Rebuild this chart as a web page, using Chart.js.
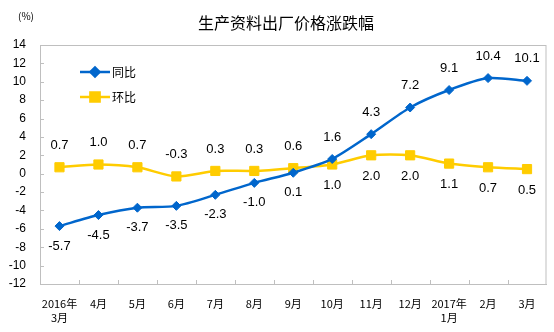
<!DOCTYPE html>
<html>
<head>
<meta charset="utf-8">
<script src="https://cdn.jsdelivr.net/npm/chart.js@4/dist/chart.umd.min.js"></script>
<style>
  html, body { margin: 0; padding: 0; background: #fff; }
  #wrap { width: 554px; height: 332px; }
</style>
</head>
<body>
<div id="wrap"><canvas id="charts"></canvas></div>
<script>
// month labels, two lines where the year changes
const months = [['2016年', '3月'], '4月', '5月', '6月', '7月', '8月', '9月', '10月', '11月', '12月', ['2017年', '1月'], '2月', '3月']
const yoy = [-5.7, -4.5, -3.7, -3.5, -2.3, -1.0, 0.1, 1.6, 4.3, 7.2, 9.1, 10.4, 10.1]
const mom = [0.7, 1.0, 0.7, -0.3, 0.3, 0.3, 0.6, 1.0, 2.0, 2.0, 1.1, 0.7, 0.5]
const yTicks = [-12, -10, -8, -6, -4, -2, 0, 2, 4, 6, 8, 10, 12, 14]

const BLUE = '#0066CC'
const YELLOW = '#FFCC00'
const AXIS = '#BFBFBF'
const NUM_FONT = '"Liberation Sans", Arial, sans-serif'
const CJK_FONT = '"Noto Sans CJK SC", sans-serif'

// frame, inner tick marks, title, legend and value labels
const decor = {
    id: 'decor',
    beforeDatasetsDraw(chart) {
        const { ctx, chartArea: a, scales } = chart
        ctx.save()
        ctx.strokeStyle = AXIS
        ctx.lineWidth = 1
        ctx.strokeRect(a.left + 0.5, a.top + 0.5, a.right - a.left - 1, a.bottom - a.top)
        ctx.beginPath()
        yTicks.forEach(v => {
            const y = Math.round(scales.y.getPixelForValue(v)) + 0.5
            ctx.moveTo(a.left, y)
            ctx.lineTo(a.left + 4, y)
        })
        for (let i = 1; i < months.length; i++) {
            const x = Math.round((scales.x.getPixelForValue(i - 1) + scales.x.getPixelForValue(i)) / 2) + 0.5
            ctx.moveTo(x, a.bottom)
            ctx.lineTo(x, a.bottom - 4)
        }
        ctx.stroke()
        ctx.restore()
    },
    afterDraw(chart) {
        const { ctx } = chart
        ctx.save()
        ctx.fillStyle = '#000'
        ctx.textAlign = 'center'
        ctx.textBaseline = 'middle'
        ctx.font = '16px ' + CJK_FONT
        ctx.fillText('生产资料出厂价格涨跌幅', 286, 23)
        ctx.font = '10px ' + CJK_FONT
        ctx.fillText('(%)', 26, 16)

        // legend
        const items = [[BLUE, 'rectRot', 4.5, '同比', 72], [YELLOW, 'rect', 6.5, '环比', 97]]
        items.forEach(([c, style, r, text, y]) => {
            ctx.strokeStyle = c
            ctx.fillStyle = c
            ctx.lineWidth = 2.5
            ctx.beginPath()
            ctx.moveTo(80, y)
            ctx.lineTo(110, y)
            ctx.stroke()
            Chart.helpers.drawPoint(ctx, { pointStyle: style, radius: r, borderWidth: 1 }, 95, y)
            ctx.fillStyle = '#000'
            ctx.textAlign = 'left'
            ctx.font = '12px ' + CJK_FONT
            ctx.fillText(text, 112, y)
        })

        // value labels: before 10月 the yoy series sits below, after it above
        ctx.textAlign = 'center'
        ctx.font = '13px ' + NUM_FONT
        ctx.fillStyle = '#000'
        const blue = chart.getDatasetMeta(0).data
        const yel = chart.getDatasetMeta(1).data
        yoy.forEach((v, i) => {
            const p = blue[i]
            const dy = i < 7 ? 20 : -22
            ctx.fillText(v.toFixed(1), p.x, p.y + dy)
        })
        mom.forEach((v, i) => {
            const p = yel[i]
            const dy = i < 7 ? -22 : 21
            ctx.fillText(v.toFixed(1), p.x, p.y + dy)
        })
        ctx.restore()
    }
}

const ctx = document.getElementById('charts').getContext('2d')

const chart = new Chart(ctx, {
    type: 'line',
    data: {
        labels: months,
        datasets: [{
            label: '同比',
            data: yoy,
            borderColor: BLUE,
            backgroundColor: BLUE,
            borderWidth: 2.5,
            pointStyle: 'rectRot',
            pointRadius: 4.5,
            pointBorderWidth: 1,
            tension: 0.25
        }, {
            label: '环比',
            data: mom,
            borderColor: YELLOW,
            backgroundColor: YELLOW,
            borderWidth: 2.5,
            pointStyle: 'rect',
            pointRadius: 6.5,
            pointBorderWidth: 1,
            tension: 0.25
        }]
    },
    options: {
        responsive: true,
        maintainAspectRatio: false,
        animation: false,
        layout: { padding: { top: 45, right: 6, left: 0, bottom: 0 } },
        plugins: {
            legend: { display: false },
            title: { display: false },
            tooltip: { enabled: false }
        },
        scales: {
            x: {
                offset: true,
                grid: { display: false, drawTicks: false },
                border: { color: AXIS },
                ticks: {
                    color: '#000',
                    padding: 12,
                    maxRotation: 0,
                    autoSkip: false,
                    font: { family: CJK_FONT, size: 11, lineHeight: 1.35 }
                },
                afterFit: s => { s.height = 48 }
            },
            y: {
                min: -12,
                max: 14,
                grid: { display: false, drawTicks: false },
                border: { color: AXIS },
                afterBuildTicks: s => { s.ticks = yTicks.map(v => ({ value: v })) },
                ticks: {
                    color: '#000',
                    padding: 14,
                    font: { family: NUM_FONT, size: 12 }
                },
                afterFit: s => { s.width = 40 }
            }
        }
    },
    plugins: [decor]
})
</script>
</body>
</html>
